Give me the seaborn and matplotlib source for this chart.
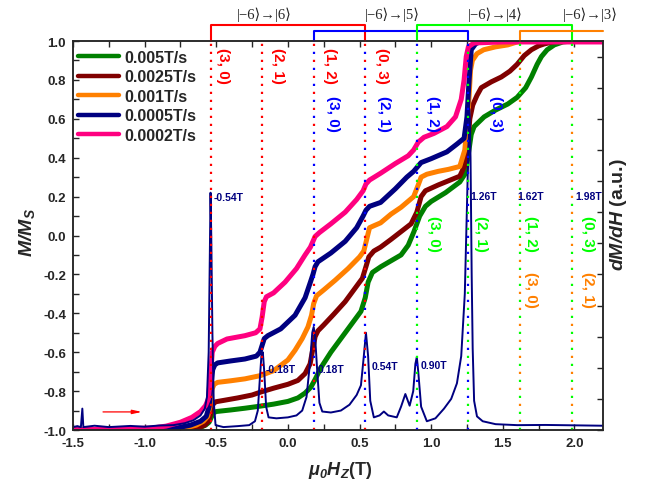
import numpy as np
import pandas as pd
import matplotlib
matplotlib.use("Agg")
import matplotlib.pyplot as plt
from matplotlib.ticker import MultipleLocator
import seaborn as sns

# ---------------- data ----------------
RATES = ["0.005T/s", "0.0025T/s", "0.001T/s", "0.0005T/s", "0.0002T/s"]
COLORS = ["#008000", "#800000", "#FF8000", "#000080", "#FF0080"]

M_0005 = [(-1.5, -1.0), (-0.7, -0.997), (-0.62, -0.99), (-0.575, -0.975), (-0.55, -0.96),
          (-0.535, -0.935), (-0.52, -0.912), (-0.5, -0.905), (-0.4, -0.897), (-0.3, -0.888),
          (-0.19, -0.877), (-0.1, -0.867), (0.0, -0.853), (0.07, -0.835), (0.12, -0.81),
          (0.16, -0.78), (0.19, -0.74), (0.23, -0.68), (0.3, -0.6), (0.37, -0.53),
          (0.45, -0.45), (0.51, -0.39), (0.54, -0.32), (0.56, -0.24), (0.59, -0.19),
          (0.65, -0.16), (0.72, -0.13), (0.79, -0.1), (0.84, -0.05), (0.88, 0.02),
          (0.92, 0.1), (0.96, 0.15), (1.0, 0.175), (1.1, 0.22), (1.2, 0.275), (1.24, 0.32),
          (1.26, 0.42), (1.28, 0.52), (1.3, 0.56), (1.37, 0.61), (1.45, 0.645),
          (1.535, 0.676), (1.6, 0.71), (1.66, 0.76), (1.7, 0.815), (1.74, 0.88),
          (1.77, 0.92), (1.81, 0.955), (1.86, 0.98), (1.92, 0.995), (1.98, 1.0), (2.2, 1.0)]

M_00025 = [(-1.5, -1.0), (-0.72, -0.997), (-0.63, -0.99), (-0.58, -0.975), (-0.555, -0.955),
           (-0.54, -0.92), (-0.525, -0.87), (-0.505, -0.855), (-0.45, -0.848), (-0.35, -0.835),
           (-0.25, -0.82), (-0.19, -0.805), (-0.1, -0.785), (0.0, -0.765), (0.07, -0.745),
           (0.12, -0.71), (0.155, -0.66), (0.175, -0.58), (0.19, -0.52), (0.21, -0.49),
           (0.25, -0.46), (0.32, -0.405), (0.4, -0.34), (0.48, -0.26), (0.52, -0.22),
           (0.545, -0.16), (0.565, -0.11), (0.6, -0.08), (0.647, -0.06), (0.72, -0.02),
           (0.79, 0.02), (0.86, 0.06), (0.9, 0.12), (0.93, 0.2), (0.96, 0.23), (1.05, 0.26),
           (1.15, 0.29), (1.2, 0.305), (1.235, 0.36), (1.255, 0.46), (1.27, 0.6),
           (1.29, 0.67), (1.32, 0.72), (1.35, 0.76), (1.42, 0.79), (1.49, 0.815),
           (1.55, 0.845), (1.6, 0.88), (1.65, 0.925), (1.7, 0.955), (1.75, 0.975),
           (1.79, 0.985), (1.88, 1.0), (2.2, 1.0)]

M_0001 = [(-1.5, -1.0), (-0.82, -0.997), (-0.72, -0.99), (-0.64, -0.975), (-0.59, -0.955),
          (-0.56, -0.93), (-0.545, -0.88), (-0.53, -0.79), (-0.515, -0.765), (-0.49, -0.755),
          (-0.4, -0.747), (-0.3, -0.737), (-0.19, -0.72), (-0.1, -0.695), (0.0, -0.64),
          (0.05, -0.59), (0.1, -0.53), (0.14, -0.47), (0.165, -0.41), (0.18, -0.35),
          (0.2, -0.31), (0.25, -0.28), (0.33, -0.23), (0.42, -0.17), (0.5, -0.11),
          (0.53, -0.08), (0.55, -0.02), (0.57, 0.04), (0.6, 0.05), (0.647, 0.065),
          (0.72, 0.11), (0.79, 0.145), (0.878, 0.2), (0.91, 0.26), (0.93, 0.3),
          (0.97, 0.315), (1.05, 0.33), (1.12, 0.34), (1.2, 0.355), (1.235, 0.44),
          (1.26, 0.65), (1.275, 0.85), (1.288, 0.9), (1.32, 0.935), (1.367, 0.955),
          (1.45, 0.97), (1.535, 0.98), (1.6, 0.995), (1.65, 1.0), (2.2, 1.0)]

M_00005 = [(-1.5, -1.0), (-0.9, -0.997), (-0.78, -0.99), (-0.68, -0.975), (-0.61, -0.955),
           (-0.57, -0.93), (-0.55, -0.88), (-0.538, -0.78), (-0.525, -0.69), (-0.51, -0.665),
           (-0.49, -0.655), (-0.4, -0.645), (-0.3, -0.635), (-0.22, -0.62), (-0.195, -0.6),
           (-0.18, -0.565), (-0.165, -0.53), (-0.14, -0.515), (-0.05, -0.48), (0.05, -0.41),
           (0.12, -0.32), (0.157, -0.24), (0.175, -0.2), (0.19, -0.16), (0.21, -0.135),
           (0.3, -0.09), (0.4, -0.03), (0.48, 0.04), (0.525, 0.1), (0.545, 0.13),
           (0.57, 0.15), (0.647, 0.17), (0.75, 0.24), (0.83, 0.3), (0.878, 0.33),
           (0.93, 0.375), (1.0, 0.395), (1.11, 0.43), (1.18, 0.47), (1.23, 0.5),
           (1.25, 0.61), (1.265, 0.8), (1.28, 0.955), (1.31, 0.985), (1.35, 1.0), (2.2, 1.0)]

M_00002 = [(-1.5, -1.0), (-0.95, -0.99), (-0.85, -0.98), (-0.75, -0.96), (-0.67, -0.935),
           (-0.61, -0.905), (-0.575, -0.875), (-0.555, -0.84), (-0.54, -0.72), (-0.528, -0.6),
           (-0.51, -0.57), (-0.49, -0.555), (-0.425, -0.532), (-0.3, -0.515), (-0.225, -0.5),
           (-0.195, -0.48), (-0.18, -0.42), (-0.165, -0.34), (-0.15, -0.315), (-0.1, -0.295),
           (-0.02, -0.24), (0.06, -0.17), (0.12, -0.1), (0.157, -0.06), (0.175, -0.03),
           (0.19, -0.005), (0.22, 0.015), (0.3, 0.06), (0.4, 0.12), (0.48, 0.185),
           (0.525, 0.23), (0.545, 0.265), (0.57, 0.285), (0.647, 0.32), (0.75, 0.37),
           (0.84, 0.41), (0.878, 0.44), (0.91, 0.48), (0.95, 0.505), (1.02, 0.525),
           (1.11, 0.56), (1.17, 0.61), (1.21, 0.7), (1.23, 0.8), (1.245, 0.92),
           (1.26, 0.97), (1.3, 0.99), (1.5, 0.995), (2.2, 0.995)]

DMDH = [(-1.5, -0.985), (-1.47, -0.98), (-1.445, -0.985), (-1.435, -0.89), (-1.428, -0.985),
        (-1.35, -0.978), (-1.25, -0.985), (-1.1, -0.979), (-1.0, -0.983), (-0.9, -0.977),
        (-0.8, -0.975), (-0.72, -0.965), (-0.66, -0.95), (-0.61, -0.925), (-0.58, -0.89),
        (-0.565, -0.83), (-0.553, -0.6), (-0.545, -0.1), (-0.54, 0.22), (-0.535, 0.0),
        (-0.527, -0.5), (-0.518, -0.85), (-0.505, -0.975), (-0.45, -0.985), (-0.35, -0.98),
        (-0.27, -0.975), (-0.23, -0.955), (-0.21, -0.9), (-0.197, -0.75), (-0.185, -0.62),
        (-0.175, -0.6), (-0.165, -0.7), (-0.152, -0.88), (-0.135, -0.935), (-0.08, -0.94),
        (0.0, -0.935), (0.06, -0.925), (0.1, -0.9), (0.13, -0.83), (0.155, -0.65),
        (0.17, -0.5), (0.18, -0.47), (0.19, -0.52), (0.205, -0.7), (0.22, -0.86),
        (0.24, -0.905), (0.3, -0.91), (0.37, -0.9), (0.43, -0.87), (0.48, -0.82),
        (0.51, -0.77), (0.53, -0.62), (0.545, -0.5), (0.56, -0.62), (0.575, -0.85),
        (0.6, -0.935), (0.64, -0.925), (0.67, -0.905), (0.7, -0.925), (0.76, -0.935),
        (0.79, -0.88), (0.82, -0.815), (0.85, -0.875), (0.875, -0.8), (0.89, -0.66),
        (0.9, -0.625), (0.91, -0.7), (0.93, -0.88), (0.97, -0.955), (1.03, -0.94),
        (1.09, -0.89), (1.14, -0.84), (1.18, -0.76), (1.21, -0.62), (1.235, -0.3),
        (1.255, 0.3), (1.268, 0.65), (1.275, 0.4), (1.283, -0.2), (1.29, -0.58),
        (1.3, -0.85), (1.32, -0.93), (1.36, -0.955), (1.45, -0.97), (1.6, -0.975),
        (1.8, -0.974), (2.0, -0.976), (2.2, -0.978)]

RESONANCES = [-0.54, -0.18, 0.18, 0.54, 0.90, 1.26, 1.62, 1.98]
PEAK_LABELS = ["-0.54T", "-0.18T", "0.18T", "0.54T", "0.90T", "1.26T", "1.62T", "1.98T"]
STATE_PAIRS = ["(3, 0)", "(2, 1)", "(1, 2)", "(0, 3)"]
TRANSITIONS = ["|\u22126\u27E9\u2192|6\u27E9", "|\u22126\u27E9\u2192|5\u27E9",
               "|\u22126\u27E9\u2192|4\u27E9", "|\u22126\u27E9\u2192|3\u27E9"]
GROUP_FIELDS = {"#FF0000": [-0.54, -0.18, 0.18, 0.54],
                "#0000FF": [0.18, 0.54, 0.90, 1.26],
                "#00FF00": [0.90, 1.26, 1.62, 1.98],
                "#FF8000": [1.62, 1.98]}

# ---------------- style ----------------
sns.set_style("ticks")
plt.rcParams["font.family"] = ["Liberation Sans", "DejaVu Sans"]
plt.rcParams["font.weight"] = "bold"
plt.rcParams["axes.unicode_minus"] = False
plt.rcParams["mathtext.fontset"] = "custom"
plt.rcParams["mathtext.bf"] = "Liberation Sans:italic:bold"
plt.rcParams["mathtext.it"] = "Liberation Sans:italic"
plt.rcParams["mathtext.rm"] = "Liberation Sans"

fig = plt.figure(figsize=(6.52, 4.89), dpi=100)
ax = fig.add_axes([0.112, 0.1186, 0.8129, 0.7955])

frames = []
for name, pts in zip(RATES, [M_0005, M_00025, M_0001, M_00005, M_00002]):
    d = pd.DataFrame(pts, columns=["H", "M"])
    d["rate"] = name
    frames.append(d)
df = pd.concat(frames, ignore_index=True)

handles = []
for name, col in zip(RATES, COLORS):
    sub = df[df["rate"] == name]
    sns.lineplot(data=sub, x="H", y="M", color=col, lw=3.6, sort=False,
                 estimator=None, ax=ax, label=name, zorder=2)
    handles.append(ax.lines[-1])

dd = pd.DataFrame(DMDH, columns=["H", "D"])
sns.lineplot(data=dd, x="H", y="D", color="#000080", lw=1.4, sort=False,
             estimator=None, ax=ax, zorder=3, legend=False)

# dotted resonance lines
for x in RESONANCES:
    cols = [c for c, xs in GROUP_FIELDS.items() if x in xs]
    if len(cols) == 1:
        ax.axvline(x, color=cols[0], lw=1.6, ls=(0, (1, 2.6)), zorder=4)
    else:
        ax.axvline(x, color=cols[0], lw=1.6, ls=(0, (1, 6.2)), zorder=4)
        ax.axvline(x, color=cols[1], lw=1.6, ls=(3.6, (1, 6.2)), zorder=4)

ax.set_xlim(-1.5, 2.2)
ax.set_ylim(-1.0, 1.0)

# brackets above the axes
trans = ax.get_xaxis_transform()
brackets = [("#FF0000", -0.54, 0.54, 1.042, True),
            ("#0000FF", 0.18, 1.26, 1.0257, True),
            ("#00FF00", 0.90, 1.98, 1.042, True),
            ("#FF8000", 1.62, 2.2, 1.0257, False)]
for col, x0, x1, yb, closed in brackets:
    if closed:
        xs, ys = [x0, x0, x1, x1], [1.0, yb, yb, 1.0]
    else:
        xs, ys = [x0, x0, x1], [1.0, yb, yb]
    ax.plot(xs, ys, color=col, lw=1.5, transform=trans, clip_on=False, zorder=6)

for txt, xc in zip(TRANSITIONS, [-0.164, 0.731, 1.451, 2.115]):
    ax.text(xc, 1.069, txt, transform=trans, ha="center", va="center",
            fontsize=10.5, fontweight="normal",
            family=["Liberation Serif", "DejaVu Serif", "DejaVu Sans"], clip_on=False)

# state-pair labels (rotated)
def pix2v(py):
    return 1 - (py - 42) / 194.5

label_sets = [("#FF0000", [-0.451, -0.066, 0.297, 0.66], 48),
              ("#0000FF", [0.318, 0.668, 1.01, 1.45], 96),
              ("#00FF00", [1.02, 1.35, 1.696, 2.094], 216),
              ("#FF8000", [1.696, 2.094], 272)]
for col, xs, ytop in label_sets:
    for lab, x in zip(STATE_PAIRS, xs):
        ax.text(x, pix2v(ytop), lab, color=col, rotation=-90, ha="center", va="top",
                fontsize=11, fontweight="bold", zorder=5)

# peak labels
peak_pos = [(-0.521, 0.198), (-0.157, -0.686), (0.206, -0.686), (0.584, -0.671),
            (0.927, -0.666), (1.276, 0.203), (1.605, 0.203), (2.01, 0.203)]
for lab, (x, y) in zip(PEAK_LABELS, peak_pos):
    ax.text(x, y, lab, color="#000080", fontsize=7.5, fontweight="bold",
            ha="left", va="center", zorder=5)

# red arrow
ax.annotate("", xy=(-1.0, -0.907), xytext=(-1.31, -0.907),
            arrowprops=dict(arrowstyle="-|>,head_width=0.12,head_length=0.55",
                            color="red", lw=0.9), zorder=5)

# axes ticks
ax.xaxis.set_major_locator(MultipleLocator(0.5))
ax.xaxis.set_minor_locator(MultipleLocator(0.25))
ax.yaxis.set_major_locator(MultipleLocator(0.2))
ax.yaxis.set_minor_locator(MultipleLocator(0.1))
ax.tick_params(which="both", direction="in", top=True, right=False, width=1.0)
ax.tick_params(which="major", length=4.5, labelsize=9.5, pad=5)
ax.tick_params(which="minor", length=4.5)
for lab in ax.get_xticklabels() + ax.get_yticklabels():
    lab.set_fontweight("bold")
for s in ax.spines.values():
    s.set_linewidth(1.1)

ax.set_xlabel(r"$\mathbf{\mu_0H_Z}$(T)", fontsize=13, fontweight="bold")
ax.xaxis.set_label_coords(0.504, -0.075)
ax.set_ylabel(r"$\mathbf{M/M_S}$", fontsize=14, fontweight="bold")
ax.yaxis.set_label_coords(-0.068, 0.51)

ax2 = ax.twinx()
ax2.set_ylim(0, 12.5)
ax2.yaxis.set_major_locator(MultipleLocator(1))
ax2.tick_params(direction="in", length=4.5, labelright=False, width=1.0)
ax2.set_ylabel(r"$\mathbf{dM/dH}$ (a.u.)", fontsize=14, fontweight="bold")
ax2.yaxis.set_label_coords(1.01, 0.555)
for s in ax2.spines.values():
    s.set_linewidth(1.1)

leg = ax.legend(handles, RATES, loc="upper left", bbox_to_anchor=(0.0, 0.99),
                borderaxespad=0, borderpad=0.3, frameon=False, handlelength=2.6,
                handletextpad=0.3, labelspacing=0.28,
                prop={"weight": "bold", "size": 11.5})
for h in leg.legend_handles:
    h.set_linewidth(3.2)

fig.savefig("out.png", dpi=100)
